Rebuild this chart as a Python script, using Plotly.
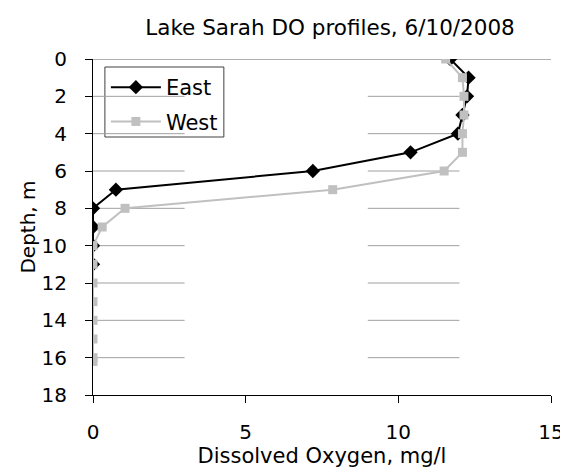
import plotly.graph_objects as go

# ---- data ----
east_depth = [0, 1, 2, 3, 4, 5, 6, 7, 8, 9, 10, 11]
east_do = [11.7, 12.3, 12.25, 12.1, 11.95, 10.4, 7.2, 0.75, 0.0, 0.0, 0.0, 0.0]

west_depth = [0, 1, 2, 3, 4, 5, 6, 7, 8, 9, 10, 11, 12, 13, 14, 15, 16, 16.2]
west_do = [11.55, 12.1, 12.15, 12.15, 12.1, 12.1, 11.5, 7.85, 1.05, 0.3,
           0.0, 0.0, 0.0, 0.0, 0.0, 0.0, 0.0, 0.0]

y_ticks = [0, 2, 4, 6, 8, 10, 12, 14, 16, 18]
x_ticks = [0, 5, 10, 15]
grid_depths = [2, 4, 6, 8, 10, 12, 14, 16]
grid_spans = [(0, 3), (9, 12)]

FONT = "DejaVu Sans"
W, H = 568, 470
L, R, T, B = 85, 21, 51, 83
PW, PH = W - L - R, H - T - B


def px(x):
    return (x - L) / PW


def py(y):
    return (H - B - y) / PH


fig = go.Figure()
fig.add_trace(go.Scatter(
    x=east_do, y=east_depth, name="East", mode="lines+markers",
    line=dict(color="black", width=2),
    marker=dict(symbol="diamond", size=11, color="black"),
    legendgroup="e",
))
fig.add_trace(go.Scatter(
    x=west_do, y=west_depth, name="West", mode="lines+markers",
    line=dict(color="#c0c0c0", width=2),
    marker=dict(symbol="square", size=9, color="#c0c0c0"),
    legendgroup="w",
))

shapes = []
for d in grid_depths:
    for x0, x1 in grid_spans:
        shapes.append(dict(type="line", xref="x", yref="y", x0=x0, x1=x1, y0=d, y1=d,
                           line=dict(color="#a0a0a0", width=1), layer="below"))
shapes.append(dict(type="line", xref="x", yref="y", x0=0, x1=15, y0=0, y1=0,
                   line=dict(color="#606060", width=1), layer="below"))
# legend frame
shapes.append(dict(type="rect", xref="paper", yref="paper",
                   x0=px(97), x1=px(217), y0=py(129), y1=py(59),
                   line=dict(color="#404040", width=1), fillcolor="white", layer="below"))

fig.update_layout(
    width=W, height=H,
    margin=dict(l=L, r=R, t=T, b=B, pad=0),
    paper_bgcolor="white", plot_bgcolor="white",
    font=dict(family=FONT, size=20, color="black"),
    title=dict(text="Lake Sarah DO profiles, 6/10/2008", xref="container", yref="container",
               x=322 / W, y=1 - 19 / H, xanchor="center", yanchor="middle",
               font=dict(family=FONT, size=21.5, color="black")),
    shapes=shapes,
    showlegend=True,
    legend=dict(x=px(98), y=py(59),
                xanchor="left", yanchor="top",
                bgcolor="rgba(0,0,0,0)", borderwidth=0,
                font=dict(family=FONT, size=21, color="black"),
                traceorder="grouped", tracegroupgap=4, itemwidth=50),
    xaxis=dict(range=[0, 15], tickvals=x_ticks, ticks="outside", ticklen=7,
               tickcolor="black", showline=True, linecolor="black", linewidth=1,
               showgrid=False, zeroline=False, ticklabelstandoff=12,
               tickfont=dict(family=FONT, size=20, color="black"),
               title=dict(text="Dissolved Oxygen, mg/l", standoff=4,
                          font=dict(family=FONT, size=21, color="black"))),
    yaxis=dict(range=[18, 0], tickvals=y_ticks, ticks="outside", ticklen=7,
               tickcolor="black", showline=True, linecolor="black", linewidth=1,
               showgrid=False, zeroline=False, ticklabelstandoff=14,
               tickfont=dict(family=FONT, size=20, color="black"),
               title=dict(text="Depth, m", standoff=0,
                          font=dict(family=FONT, size=20, color="black"))),
)

fig.write_html("out.html")
